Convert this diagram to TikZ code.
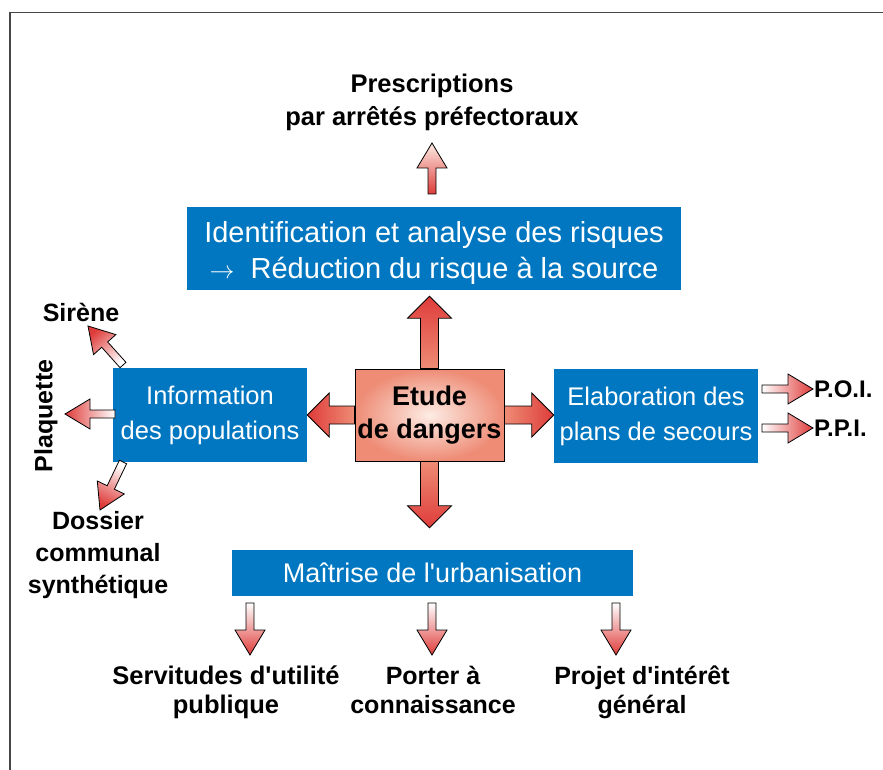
\documentclass[tikz,border=0pt]{standalone}
\usepackage{fontspec}
\setmainfont{Liberation Sans}
\usetikzlibrary{calc}

\definecolor{bleuboite}{RGB}{0,119,192}
\definecolor{rougefleche}{RGB}{222,60,58}
\definecolor{saumon}{RGB}{238,140,118}
\definecolor{rosepale}{RGB}{253,236,228}
\definecolor{cadre}{RGB}{70,70,70}

\tikzset{
  boite/.style={fill=bleuboite, text=white, align=center, inner sep=0pt},
  etiquette/.style={align=center, inner sep=0pt, font=\bfseries\fontsize{25}{31}\selectfont},
  ombre/.style 2 args={bottom color=#1, top color=#2},
  fleche/.style n args={4}{draw=black, line width=0.8pt, line join=miter, shading angle=#4,
    to path={
      ($(\tikztostart)!#1!90:(\tikztotarget)$)
      -- ($(\tikztotarget)!#3!(\tikztostart)!#1!-90:(\tikztostart)$)
      -- ($(\tikztotarget)!#3!(\tikztostart)!#2!-90:(\tikztostart)$)
      -- (\tikztotarget)
      -- ($(\tikztotarget)!#3!(\tikztostart)!#2!90:(\tikztostart)$)
      -- ($(\tikztotarget)!#3!(\tikztostart)!#1!90:(\tikztostart)$)
      -- ($(\tikztostart)!#1!-90:(\tikztotarget)$)
      -- cycle}},
  grosse/.style={fleche={9pt}{22pt}{22pt}{#1}},
  petite/.style={fleche={4pt}{15pt}{25pt}{#1}},
}

\begin{document}
\begin{tikzpicture}[x=1pt,y=-1pt]
\useasboundingbox (0,0) rectangle (883,770);
% cadre
\draw[cadre, line width=1.5pt] (10,770) -- (10,12.5) -- (883,12.5);

% boites bleues
\node[boite, minimum width=494pt, minimum height=83pt] (ident) at (434,248.5) {};
\node[text=white, align=center, inner sep=0pt, font=\fontsize{29}{36}\selectfont] (identtexte) at ([yshift=-5pt]ident.center)
  {Identification et analyse des risques\\$\rightarrow$\ \ Réduction du risque à la source};
\node[boite, minimum width=194pt, minimum height=94pt, font=\fontsize{25.5}{35}\selectfont] (info) at (210,415)
  {Information\\des populations};
\node[boite, minimum width=204pt, minimum height=94pt, font=\fontsize{25.5}{35}\selectfont] (elab) at (656,416)
  {Elaboration des\\plans de secours};
\node[boite, minimum width=401pt, minimum height=46pt, font=\fontsize{27}{30}\selectfont] (maitrise) at (432.5,573)
  {Maîtrise de l\textquotesingle urbanisation};

% etude de dangers
\node[draw=black, line width=0.8pt, inner color=rosepale, outer color=saumon, minimum width=149pt,
  minimum height=92pt, align=center, inner sep=0pt, font=\bfseries\fontsize{27}{33}\selectfont] (etude) at (429.5,415)
  {Etude\\de dangers};

% etiquettes
\node[etiquette, font=\bfseries\fontsize{25.5}{33}\selectfont] (presc) at (432,102) {Prescriptions\\par arrêtés préfectoraux};
\node[etiquette] (sirene) at (81,312) {Sirène};
\node[etiquette, rotate=90] (plaquette) at (46,416) {Plaquette};
\node[etiquette, font=\bfseries\fontsize{25}{32}\selectfont] (dossier) at (98,555) {Dossier\\communal\\synthétique};
\node[etiquette, font=\bfseries\fontsize{24}{31}\selectfont, anchor=west] (poi) at (814,389) {P.O.I.};
\node[etiquette, font=\bfseries\fontsize{24}{31}\selectfont, anchor=west] (ppi) at (814,428) {P.P.I.};
\node[etiquette, font=\bfseries\fontsize{25.5}{29}\selectfont, anchor=north] (servit) at (226,666) {Servitudes d\textquotesingle utilité\\publique};
\node[etiquette, font=\bfseries\fontsize{25}{29}\selectfont, anchor=north] (porter) at (433,666) {Porter à\\connaissance};
\node[etiquette, font=\bfseries\fontsize{25}{29}\selectfont, anchor=north] (projet) at (642,666) {Projet d\textquotesingle intérêt\\général};

% extremites des fleches
\coordinate (hautE) at ($(etude.north |- ident.south)+(0,6)$);
\coordinate (basE) at ($(etude.south |- maitrise.north)+(0,-22)$);
\coordinate (gaucheE) at (etude.west -| info.east);
\coordinate (droiteE) at (etude.east -| elab.west);
\coordinate (prescA) at (432,194);
\coordinate (prescB) at (432,143);
\coordinate (sireneA) at (123,365);
\coordinate (sireneB) at (88,326);
\coordinate (plaqA) at (115,414);
\coordinate (plaqB) at (65,414);
\coordinate (dossA) at (123,462);
\coordinate (dossB) at (100,510);
\coordinate (poiA) at (762,389);
\coordinate (poiB) at (813,389);
\coordinate (ppiA) at (762,428);
\coordinate (ppiB) at (813,428);
\coordinate (servA) at (250,603);
\coordinate (servB) at (250,655);
\coordinate (portA) at (432,603);
\coordinate (portB) at (432,655);
\coordinate (projA) at (616,603);
\coordinate (projB) at (616,655);

% fleches de l'etude
\path[ombre={saumon}{rougefleche}, grosse=0] (etude.north) to (hautE);
\path[ombre={saumon}{rougefleche}, grosse=180] (etude.south) to (basE);
\path[ombre={saumon}{rougefleche}, grosse=90] (etude.west) to (gaucheE);
\path[ombre={saumon}{rougefleche}, grosse=-90] (etude.east) to (droiteE);

% petites fleches
\path[ombre={rougefleche}{rosepale}, petite=0] (prescA) to (prescB);
\path[ombre={white}{rougefleche}, petite=42] (sireneA) to (sireneB);
\path[ombre={white}{rougefleche}, petite=90] (plaqA) to (plaqB);
\path[ombre={white}{rougefleche}, petite=154] (dossA) to (dossB);
\path[ombre={white}{rougefleche}, petite=-90] (poiA) to (poiB);
\path[ombre={white}{rougefleche}, petite=-90] (ppiA) to (ppiB);
\path[ombre={white}{rougefleche}, petite=180] (servA) to (servB);
\path[ombre={white}{rougefleche}, petite=180] (portA) to (portB);
\path[ombre={white}{rougefleche}, petite=180] (projA) to (projB);
\end{tikzpicture}
\end{document}
